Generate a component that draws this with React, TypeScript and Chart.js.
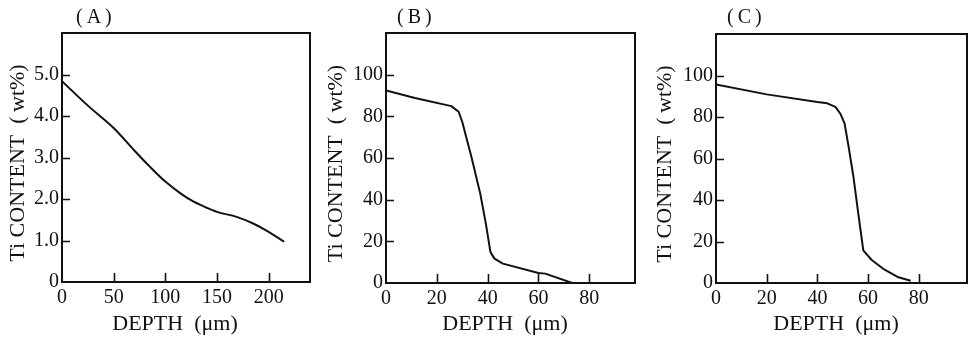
import React, { useEffect, useRef } from "react";
import { Chart, registerables } from "chart.js";

Chart.register(...registerables);

// ---- Data ----
const depthA = [0, 25, 50, 70, 85, 100, 115, 127, 140, 150, 169, 185, 200, 215];
const tiA = [4.84, 4.25, 3.71, 3.17, 2.78, 2.42, 2.13, 1.94, 1.79, 1.69, 1.57, 1.41, 1.21, 0.97];

const depthB = [0, 11.4, 25.7, 28.6, 30, 33.6, 37.1, 39.3, 41.1, 42.7, 46, 60, 62.7, 73.3];
const tiB = [92.4, 88.8, 84.9, 82.2, 77.4, 60.6, 42.9, 28.5, 14.9, 11.7, 9.3, 4.8, 4.5, 0];

const depthC = [0, 20, 40, 43.9, 47.1, 49, 50.7, 52.3, 54.2, 56.1, 58.1, 61.3, 64, 66.5, 71.6, 76.8];
const tiC = [95.7, 90.9, 87.2, 86.6, 84.9, 81.7, 76.9, 65.7, 51.3, 33.7, 15.7, 11.2, 8.7, 6.4, 2.9, 1.1];

const panelLabels = ["(\u2009A\u2009)", "(\u2009B\u2009)", "(\u2009C\u2009)"];
const yTitle = "Ti CONTENT\u2002(\u2009wt%)";
const xTitle = "DEPTH\u2002(\u03bcm)";

const FONT = "'Liberation Serif', 'Noto Sans CJK JP', serif";
const INK = "#111";

type PanelCfg = {
  label: string;
  xs: number[];
  ys: number[];
  smooth: boolean;
  canvasLeft: number;
  canvasWidth: number;
  padTop: number;
  padRight: number;
  yWidth: number;
  xHeight: number;
  yTitlePad: number;
  xTitleShift: number;
  xMax: number;
  xStep: number;
  xLabelMax: number;
  yMax: number;
  yStep: number;
  yLabelMax: number;
  yFmt: (v: number) => string;
  labelDx: number;
};

const panels: PanelCfg[] = [
  {
    label: panelLabels[0],
    xs: depthA,
    ys: tiA,
    smooth: true,
    canvasLeft: 0,
    canvasWidth: 320,
    padTop: 33,
    padRight: 10,
    yWidth: 62,
    xHeight: 57,
    yTitlePad: 5,
    xTitleShift: 2,
    xMax: 240,
    xStep: 50,
    xLabelMax: 200,
    yMax: 6,
    yStep: 1,
    yLabelMax: 5,
    yFmt: (v) => (v === 0 ? "0" : v.toFixed(1)),
    labelDx: 14,
  },
  {
    label: panelLabels[1],
    xs: depthB,
    ys: tiB,
    smooth: false,
    canvasLeft: 320,
    canvasWidth: 320,
    padTop: 33,
    padRight: 5,
    yWidth: 66,
    xHeight: 56,
    yTitlePad: 3,
    xTitleShift: 1,
    xMax: 98,
    xStep: 20,
    xLabelMax: 80,
    yMax: 120,
    yStep: 20,
    yLabelMax: 100,
    yFmt: (v) => String(v),
    labelDx: 11,
  },
  {
    label: panelLabels[2],
    xs: depthC,
    ys: tiC,
    smooth: false,
    canvasLeft: 640,
    canvasWidth: 328,
    padTop: 34,
    padRight: 1,
    yWidth: 76,
    xHeight: 56,
    yTitlePad: 12,
    xTitleShift: 1,
    xMax: 99,
    xStep: 20,
    xLabelMax: 80,
    yMax: 120,
    yStep: 20,
    yLabelMax: 100,
    yFmt: (v) => String(v),
    labelDx: 11,
  },
];

function Panel({ cfg }: { cfg: PanelCfg }) {
  const ref = useRef<HTMLCanvasElement>(null);

  useEffect(() => {
    const canvas = ref.current;
    if (!canvas) return;

    const framePlugin = {
      id: "frameAndTicks",
      afterDraw(chart: any) {
        const { ctx, chartArea: a, scales } = chart;
        ctx.save();
        ctx.strokeStyle = INK;
        ctx.lineWidth = 2;
        ctx.strokeRect(a.left, a.top, a.right - a.left, a.bottom - a.top);
        ctx.lineWidth = 1.6;
        ctx.beginPath();
        for (const t of scales.x.ticks) {
          if (t.value === 0) continue;
          const px = Math.round(scales.x.getPixelForValue(t.value)) + 0.5;
          ctx.moveTo(px, a.bottom);
          ctx.lineTo(px, a.bottom - 9);
        }
        for (const t of scales.y.ticks) {
          if (t.value === 0) continue;
          const py = Math.round(scales.y.getPixelForValue(t.value)) + 0.5;
          ctx.moveTo(a.left, py);
          ctx.lineTo(a.left + 8, py);
        }
        ctx.stroke();
        ctx.font = `20px ${FONT}`;
        ctx.fillStyle = INK;
        ctx.textBaseline = "middle";
        ctx.textAlign = "left";
        ctx.fillText(cfg.label, a.left + cfg.labelDx, 18);
        ctx.restore();
      },
    };

    const chart = new Chart(canvas, {
      type: "line",
      data: {
        datasets: [
          {
            data: cfg.xs.map((x, i) => ({ x, y: cfg.ys[i] })),
            borderColor: INK,
            borderWidth: 2,
            pointRadius: 0,
            fill: false,
            tension: 0,
            cubicInterpolationMode: cfg.smooth ? "monotone" : "default",
            borderJoinStyle: "round",
          },
        ],
      },
      options: {
        responsive: false,
        animation: false,
        layout: {
          padding: { top: cfg.padTop, right: cfg.padRight, bottom: 0, left: 0 },
        },
        plugins: {
          legend: { display: false },
          tooltip: { enabled: false },
        },
        scales: {
          x: {
            type: "linear",
            min: 0,
            max: cfg.xMax,
            border: { display: false },
            grid: { display: false, drawTicks: false },
            afterBuildTicks: (s: any) => {
              s.ticks = s.ticks.filter((t: any) => t.value <= cfg.xLabelMax);
            },
            afterFit: (s: any) => {
              s.height = cfg.xHeight;
            },
            ticks: {
              stepSize: cfg.xStep,
              includeBounds: false,
              autoSkip: false,
              maxRotation: 0,
              padding: 4,
              color: INK,
              font: { family: FONT, size: 20 },
              callback: (v: any) => String(v),
            },
            title: {
              display: true,
              text: xTitle + "\u2002".repeat(cfg.xTitleShift),
              color: INK,
              font: { family: FONT, size: 22 },
              padding: { top: 0, bottom: 2 },
            },
          },
          y: {
            type: "linear",
            min: 0,
            max: cfg.yMax,
            border: { display: false },
            grid: { display: false, drawTicks: false },
            afterBuildTicks: (s: any) => {
              s.ticks = s.ticks.filter((t: any) => t.value <= cfg.yLabelMax);
            },
            afterFit: (s: any) => {
              s.width = cfg.yWidth;
            },
            ticks: {
              stepSize: cfg.yStep,
              includeBounds: false,
              padding: 3,
              color: INK,
              font: { family: FONT, size: 20 },
              callback: (v: any) => cfg.yFmt(Number(v)),
            },
            title: {
              display: true,
              text: yTitle + "\u2002",
              color: INK,
              font: { family: FONT, size: 22 },
              padding: { top: cfg.yTitlePad, bottom: 0 },
            },
          },
        },
      },
      plugins: [framePlugin],
    } as any);

    return () => chart.destroy();
  }, [cfg]);

  return (
    <canvas
      ref={ref}
      width={cfg.canvasWidth}
      height={339}
      style={{
        position: "absolute",
        left: cfg.canvasLeft,
        top: 0,
        width: cfg.canvasWidth,
        height: 339,
        display: "block",
      }}
    />
  );
}

export default function App() {
  return (
    <div
      style={{
        position: "fixed",
        left: 0,
        top: 0,
        width: 968,
        height: 339,
        background: "#fff",
        overflow: "hidden",
      }}
    >
      {panels.map((p, i) => (
        <Panel key={i} cfg={p} />
      ))}
    </div>
  );
}
